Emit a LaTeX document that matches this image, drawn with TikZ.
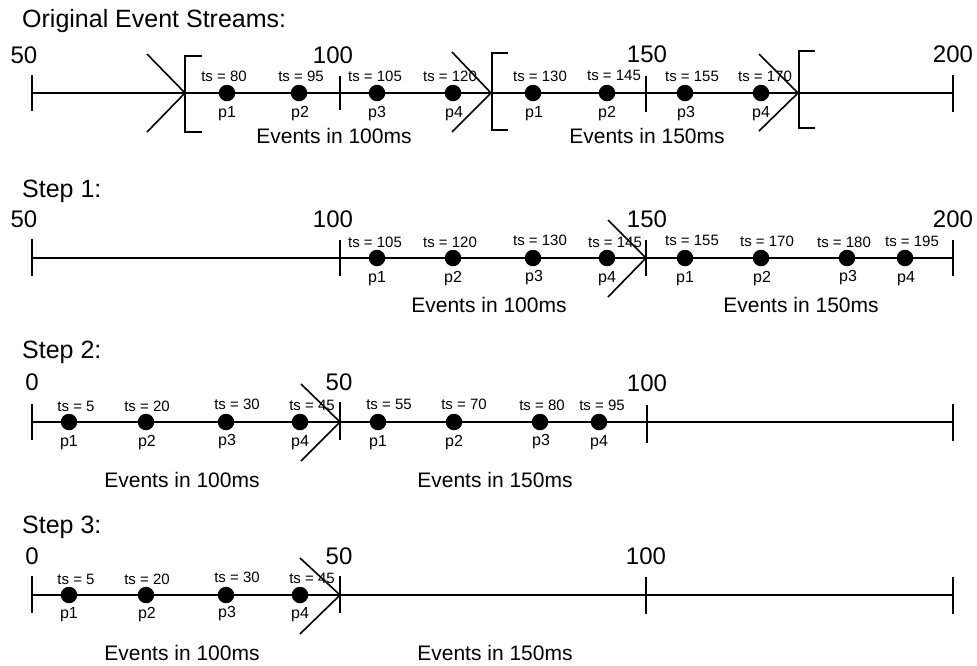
\documentclass[tikz,border=0pt]{standalone}
\usepackage{fontspec}
\setmainfont{Liberation Sans}
\tikzset{
  axisline/.style={line width=1.6pt},
  tickmark/.style={line width=1.6pt},
  chev/.style={line width=1.6pt},
  brk/.style={line width=1.6pt},
  evdot/.style={circle, fill=black, draw=none, inner sep=0pt, minimum size=16.5pt},
  rowtitle/.style={anchor=base west, inner sep=0pt, font=\fontsize{25}{30}\selectfont},
  ticklabel/.style={anchor=base, inner sep=0pt, font=\fontsize{24}{28}\selectfont},
  tslabel/.style={anchor=base, inner sep=0pt, font=\fontsize{15}{18}\selectfont},
  plabel/.style={anchor=base, inner sep=0pt, font=\fontsize{16}{19}\selectfont},
  evlabel/.style={anchor=base, inner sep=0pt, font=\fontsize{21}{25}\selectfont},
}
\begin{document}
\begin{tikzpicture}[x=1pt,y=-1pt]
\useasboundingbox (0,0) rectangle (977,665);

% ================= Row 1: Original Event Streams =================
\node[rowtitle] (t1) at (22,27) {Original Event Streams:};
\coordinate (r1s) at (32,93);
\coordinate (r1e) at (953,93);
\draw[axisline] (r1s) -- (r1e);
\draw[tickmark] (32,75) -- (32,111);
\draw[tickmark] (340,76) -- (340,110);
\draw[tickmark] (646,76) -- (646,112);
\draw[tickmark] (953,75) -- (953,112);
\node[ticklabel] (r1l50)  at (24,63)  {50};
\node[ticklabel] (r1l100) at (333,63) {100};
\node[ticklabel] (r1l150) at (647,62) {150};
\node[ticklabel] (r1l200) at (953,62) {200};
% chevrons
\draw[chev] (147,54) -- (185,93) -- (147,132);
\draw[chev] (452,52) -- (491,93) -- (452,132);
\draw[chev] (759,54) -- (798,93) -- (759,131);
% brackets
\draw[brk] (202,56) -- (185,56) -- (185,132) -- (202,132);
\draw[brk] (508,53) -- (492,53) -- (492,130) -- (508,130);
\draw[brk] (815,51) -- (799,51) -- (799,128) -- (815,128);
% events
\node[evdot] (r1p1) at (227,93) {};
\node[evdot] (r1p2) at (299,93) {};
\node[evdot] (r1p3) at (377,93) {};
\node[evdot] (r1p4) at (453,93) {};
\node[evdot] (r1q1) at (533,93) {};
\node[evdot] (r1q2) at (607,93) {};
\node[evdot] (r1q3) at (685,93) {};
\node[evdot] (r1q4) at (761,93) {};
\node[tslabel] (r1ts1) at (224,81) {ts = 80};
\node[tslabel] (r1ts2) at (301,81) {ts = 95};
\node[tslabel] (r1ts3) at (375,81) {ts = 105};
\node[tslabel] (r1ts4) at (450,81) {ts = 120};
\node[tslabel] (r1ts5) at (540,81) {ts = 130};
\node[tslabel] (r1ts6) at (614,80) {ts = 145};
\node[tslabel] (r1ts7) at (692,81) {ts = 155};
\node[tslabel] (r1ts8) at (765,81) {ts = 170};
\node[plabel] (r1n1) at (227,117) {p1};
\node[plabel] (r1n2) at (300,117) {p2};
\node[plabel] (r1n3) at (377,117) {p3};
\node[plabel] (r1n4) at (454,117) {p4};
\node[plabel] (r1n5) at (534,117) {p1};
\node[plabel] (r1n6) at (607,117) {p2};
\node[plabel] (r1n7) at (686,117) {p3};
\node[plabel] (r1n8) at (761,117) {p4};
\node[evlabel] (r1e1) at (334,143) {Events in 100ms};
\node[evlabel] (r1e2) at (647,143) {Events in 150ms};

% ================= Row 2: Step 1 =================
\node[rowtitle] (t2) at (22,197) {Step 1:};
\coordinate (r2s) at (32,258);
\coordinate (r2e) at (953,258);
\draw[axisline] (r2s) -- (r2e);
\draw[tickmark] (32,239) -- (32,276);
\draw[tickmark] (340,240) -- (340,276);
\draw[tickmark] (646,240) -- (646,276);
\draw[tickmark] (953,240) -- (953,276);
\node[ticklabel] (r2l50)  at (24,227)  {50};
\node[ticklabel] (r2l100) at (333,227) {100};
\node[ticklabel] (r2l150) at (647,227) {150};
\node[ticklabel] (r2l200) at (953,227) {200};
\draw[chev] (608,220) -- (646,258) -- (608,297);
\node[evdot] (r2p1) at (377,258) {};
\node[evdot] (r2p2) at (453,258) {};
\node[evdot] (r2p3) at (533,258) {};
\node[evdot] (r2p4) at (607,258) {};
\node[evdot] (r2q1) at (685,258) {};
\node[evdot] (r2q2) at (761,258) {};
\node[evdot] (r2q3) at (847,258) {};
\node[evdot] (r2q4) at (905,258) {};
\node[tslabel] (r2ts1) at (375,247) {ts = 105};
\node[tslabel] (r2ts2) at (450,247) {ts = 120};
\node[tslabel] (r2ts3) at (540,245) {ts = 130};
\node[tslabel] (r2ts4) at (615,247) {ts = 145};
\node[tslabel] (r2ts5) at (692,245) {ts = 155};
\node[tslabel] (r2ts6) at (767,246) {ts = 170};
\node[tslabel] (r2ts7) at (844,247) {ts = 180};
\node[tslabel] (r2ts8) at (912,246) {ts = 195};
\node[plabel] (r2n1) at (377,282) {p1};
\node[plabel] (r2n2) at (453,282) {p2};
\node[plabel] (r2n3) at (534,281) {p3};
\node[plabel] (r2n4) at (607,282) {p4};
\node[plabel] (r2n5) at (685,282) {p1};
\node[plabel] (r2n6) at (762,282) {p2};
\node[plabel] (r2n7) at (848,281) {p3};
\node[plabel] (r2n8) at (906,282) {p4};
\node[evlabel] (r2e1) at (489,312) {Events in 100ms};
\node[evlabel] (r2e2) at (801,312) {Events in 150ms};

% ================= Row 3: Step 2 =================
\node[rowtitle] (t3) at (22,358) {Step 2:};
\coordinate (r3s) at (32,422);
\coordinate (r3e) at (953,422);
\draw[axisline] (r3s) -- (r3e);
\draw[tickmark] (32,404) -- (32,440);
\draw[tickmark] (340,402) -- (340,440);
\draw[tickmark] (647,405) -- (647,443);
\draw[tickmark] (953,404) -- (953,441);
\node[ticklabel] (r3l0)   at (32,390)  {0};
\node[ticklabel] (r3l50)  at (339,390) {50};
\node[ticklabel] (r3l100) at (647,391) {100};
\draw[chev] (301,384) -- (340,422) -- (301,461);
\node[evdot] (r3p1) at (69,422) {};
\node[evdot] (r3p2) at (146,422) {};
\node[evdot] (r3p3) at (226,422) {};
\node[evdot] (r3p4) at (300,422) {};
\node[evdot] (r3q1) at (378,422) {};
\node[evdot] (r3q2) at (454,422) {};
\node[evdot] (r3q3) at (540,422) {};
\node[evdot] (r3q4) at (599,422) {};
\node[tslabel] (r3ts1) at (76,411)  {ts = 5};
\node[tslabel] (r3ts2) at (147,411) {ts = 20};
\node[tslabel] (r3ts3) at (237,409) {ts = 30};
\node[tslabel] (r3ts4) at (312,410) {ts = 45};
\node[tslabel] (r3ts5) at (389,409) {ts = 55};
\node[tslabel] (r3ts6) at (464,409) {ts = 70};
\node[tslabel] (r3ts7) at (542,410) {ts = 80};
\node[tslabel] (r3ts8) at (602,410) {ts = 95};
\node[plabel] (r3n1) at (69,446)  {p1};
\node[plabel] (r3n2) at (147,446) {p2};
\node[plabel] (r3n3) at (227,445) {p3};
\node[plabel] (r3n4) at (300,446) {p4};
\node[plabel] (r3n5) at (378,446) {p1};
\node[plabel] (r3n6) at (454,446) {p2};
\node[plabel] (r3n7) at (541,445) {p3};
\node[plabel] (r3n8) at (599,446) {p4};
\node[evlabel] (r3e1) at (182,487) {Events in 100ms};
\node[evlabel] (r3e2) at (495,487) {Events in 150ms};

% ================= Row 4: Step 3 =================
\node[rowtitle] (t4) at (22,533) {Step 3:};
\coordinate (r4s) at (32,595);
\coordinate (r4e) at (953,595);
\draw[axisline] (r4s) -- (r4e);
\draw[tickmark] (32,576) -- (32,613);
\draw[tickmark] (340,576) -- (340,613);
\draw[tickmark] (646,577) -- (646,614);
\draw[tickmark] (953,577) -- (953,614);
\node[ticklabel] (r4l0)   at (32,564)  {0};
\node[ticklabel] (r4l50)  at (339,564) {50};
\node[ticklabel] (r4l100) at (646,564) {100};
\draw[chev] (300,558) -- (340,595) -- (300,634);
\node[evdot] (r4p1) at (69,595) {};
\node[evdot] (r4p2) at (146,595) {};
\node[evdot] (r4p3) at (226,595) {};
\node[evdot] (r4p4) at (300,595) {};
\node[tslabel] (r4ts1) at (76,584)  {ts = 5};
\node[tslabel] (r4ts2) at (147,584) {ts = 20};
\node[tslabel] (r4ts3) at (237,582) {ts = 30};
\node[tslabel] (r4ts4) at (312,583) {ts = 45};
\node[plabel] (r4n1) at (69,618)  {p1};
\node[plabel] (r4n2) at (147,618) {p2};
\node[plabel] (r4n3) at (227,617) {p3};
\node[plabel] (r4n4) at (300,618) {p4};
\node[evlabel] (r4e1) at (182,660) {Events in 100ms};
\node[evlabel] (r4e2) at (495,660) {Events in 150ms};
\end{tikzpicture}
\end{document}
